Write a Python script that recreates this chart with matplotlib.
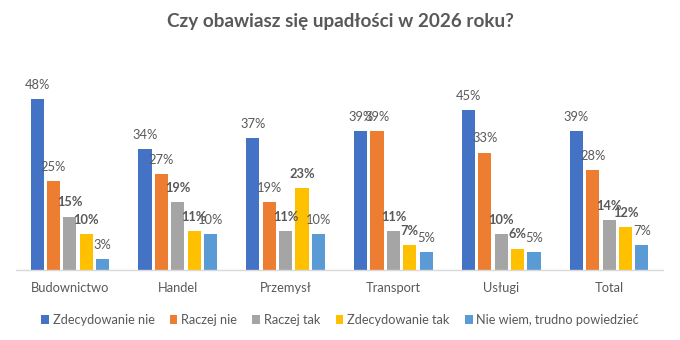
import matplotlib
matplotlib.use("Agg")
import matplotlib.pyplot as plt
import numpy as np

categories = ["Budownictwo", "Handel", "Przemysł", "Transport", "Usługi", "Total"]
series_names = ["Zdecydowanie nie", "Raczej nie", "Raczej tak", "Zdecydowanie tak", "Nie wiem, trudno powiedzieć"]
zdecydowanie_nie = [48, 34, 37, 39, 45, 39]
raczej_nie = [25, 27, 19, 39, 33, 28]
raczej_tak = [15, 19, 11, 11, 10, 14]
zdecydowanie_tak = [10, 11, 23, 7, 6, 12]
nie_wiem = [3, 10, 10, 5, 5, 7]
series_values = [zdecydowanie_nie, raczej_nie, raczej_tak, zdecydowanie_tak, nie_wiem]
colors = ["#4472C4", "#ED7D31", "#A5A5A5", "#FFC000", "#5B9BD5"]
bold_series = [False, False, True, True, False]

plt.rcParams['font.family'] = ['Lato', 'DejaVu Sans']
text_color = "#595959"

fig = plt.figure(figsize=(6.8, 3.4), dpi=100)
ax = fig.add_axes([16/680, 1-270/340, 647/680, 190/340])

x = np.arange(len(categories))
step = 0.152
bw = 0.122
for i, (name, vals, c, b) in enumerate(zip(series_names, series_values, colors, bold_series)):
    pos = x + (i - 2) * step
    ax.bar(pos, vals, width=bw, color=c, label=name)
    for xi, v in zip(pos, vals):
        ax.annotate(f"{v}%", (xi, v), xytext=(0, 6), textcoords="offset points",
                    ha="center", va="bottom", fontsize=9.3, color=text_color,
                    fontweight="bold" if b else "normal")

ax.set_xlim(-0.5, len(categories) - 0.5)
ax.set_ylim(0, 53.4)
ax.set_xticks(x)
ax.set_xticklabels(categories, fontsize=9.3, color=text_color)
ax.tick_params(axis="x", length=0, pad=9)
ax.set_yticks([])
for s in ["top", "right", "left"]:
    ax.spines[s].set_visible(False)
ax.spines["bottom"].set_color("#D9D9D9")
ax.spines["bottom"].set_linewidth(1)

fig.text(0.5, 1-22/340, "Czy obawiasz się upadłości w 2026 roku?", ha="center", va="center",
         fontsize=13.6, fontweight="bold", color=text_color)

fig.legend(loc="center", bbox_to_anchor=(0.5, 1-320/340), ncol=5, frameon=False,
           fontsize=9.2, labelcolor=text_color, handlelength=0.6, handleheight=0.6,
           handletextpad=0.3, columnspacing=1.2)

fig.savefig("out.png", dpi=100)
